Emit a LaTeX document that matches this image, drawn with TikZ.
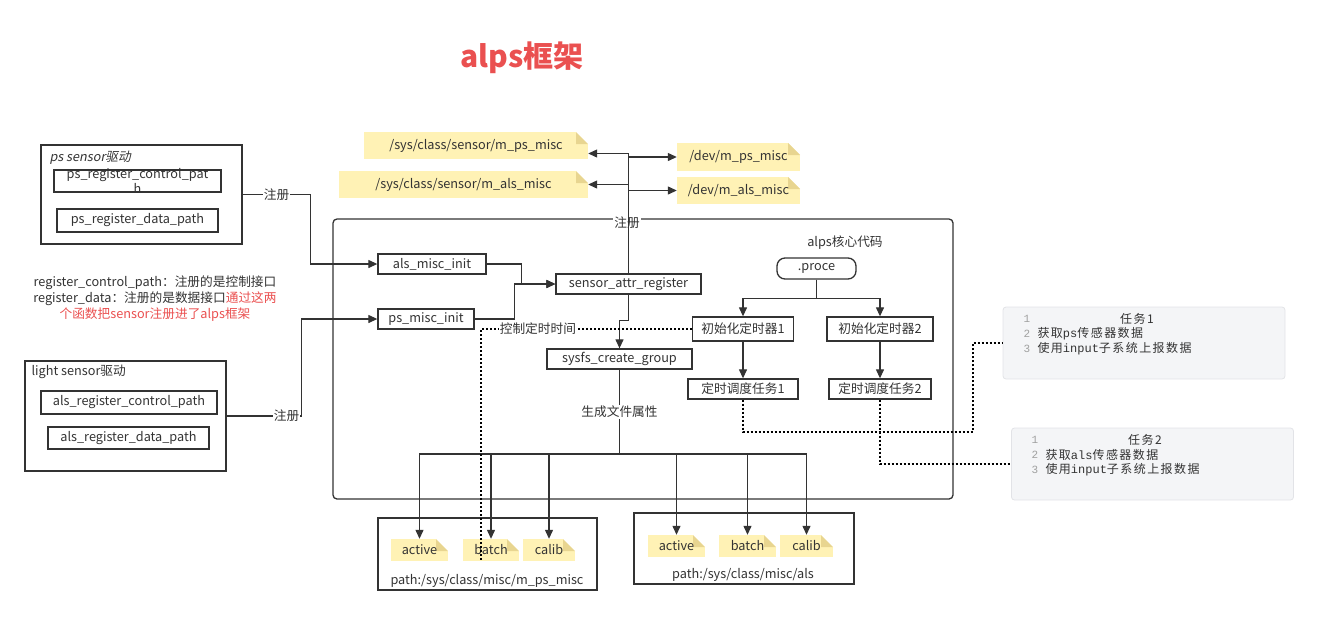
\documentclass[tikz,border=0pt]{standalone}
\usepackage{fontspec}
\setmainfont{Noto Sans CJK SC}
\newfontfamily\slantfont[FakeSlant=0.2]{Noto Sans CJK SC}
\newfontfamily\taskfont[LetterSpace=12]{Noto Sans CJK SC}
\newfontfamily\codefont{Liberation Mono}
\usetikzlibrary{arrows.meta}

\definecolor{linec}{HTML}{333333}
\definecolor{notefill}{HTML}{FFF2B5}
\definecolor{notefold}{HTML}{E8D590}
\definecolor{alpsred}{HTML}{EA5050}
\definecolor{taskfill}{HTML}{F4F5F7}
\definecolor{taskline}{HTML}{E2E3E7}
\definecolor{numgray}{HTML}{A0A0A0}

\tikzset{
  box/.style={draw=linec, line width=1.3pt, inner sep=0pt},
  note/.style={fill=notefill, inner sep=0pt, path picture={
      \fill[white] ([xshift=-12pt]path picture bounding box.north east) -- (path picture bounding box.north east)
        -- ([yshift=-12pt]path picture bounding box.north east) -- cycle;
      \fill[notefold] ([xshift=-12pt]path picture bounding box.north east) -- ([xshift=-12pt,yshift=-12pt]path picture bounding box.north east)
        -- ([yshift=-12pt]path picture bounding box.north east) -- cycle;}},
  link/.style={draw=linec, line width=1.2pt},
  arr/.style={link, -{Triangle[length=9pt,width=8pt]}},
  dots/.style={draw=black, line width=1.6pt, dash pattern=on 2pt off 2pt},
  lbl/.style={fill=white, inner sep=1pt},
  taskbox/.style={draw=taskline, fill=taskfill, rounded corners=3pt, line width=0.8pt,
      minimum width=282pt, minimum height=72pt},
  tasktxt/.style={anchor=west, font=\taskfont\fontsize{12}{14}\selectfont},
  tasknum/.style={anchor=west, text=numgray, font=\codefont\fontsize{11}{13}\selectfont},
}

\begin{document}
\begin{tikzpicture}[x=1pt, y=-1pt, every node/.style={font=\fontsize{12.7}{15}\selectfont, text=linec}]
%\draw [help lines] (0,0) grid (1318,625);
\useasboundingbox (0,0) rectangle (1318,625);

\node[font=\bfseries\fontsize{30}{34}\selectfont, text=alpsred] (title) at (522,58) {alps框架};

% ps driver
\node[box, minimum width=201pt, minimum height=99pt] (psdrv) at (141.5,194.5) {};
\node[anchor=west, font=\slantfont\fontsize{12.7}{15}\selectfont] (pstitle) at (46,158) {ps sensor驱动};
\node[box, minimum width=167pt, minimum height=22pt] (pscp) at (137.5,181) {};
\node[align=center] (pscptext) at (pscp) {ps\_register\_control\_pat\\h};
\node[box, minimum width=161pt, minimum height=23pt] (psdp) at (137.5,220.5) {ps\_register\_data\_path};

% light driver
\node[box, minimum width=201pt, minimum height=110pt] (lightdrv) at (125.5,416) {};
\node[anchor=west] (lighttitle) at (28,372) {light sensor驱动};
\node[box, minimum width=176pt, minimum height=23pt] (lcp) at (129,402.5) {als\_register\_control\_path};
\node[box, minimum width=161pt, minimum height=22pt] (ldp) at (128.5,438) {als\_register\_data\_path};

\node[align=center, font=\fontsize{12.7}{16}\selectfont] (note) at (155,299)
  {register\_control\_path：注册的是控制接口\\
   register\_data：注册的是数据接口\textcolor{alpsred}{通过这两}\\
   \textcolor{alpsred}{个函数把sensor注册进了alps框架}};

% alps core
\node[box, rounded corners=4pt, minimum width=620pt, minimum height=280pt] (core) at (643,359) {};
\node[lbl] (corelbl) at (627,223) {注册};
\node (corename) at (845,243) {alps核心代码};

\node[box, minimum width=108pt, minimum height=20pt] (alsinit) at (432,264) {als\_misc\_init};
\node[box, minimum width=96pt, minimum height=20pt] (psinit) at (426,319) {ps\_misc\_init};
\node[box, minimum width=145pt, minimum height=20pt] (sattr) at (628.5,284) {sensor\_attr\_register};
\node[box, minimum width=145pt, minimum height=20pt] (sysfs) at (619.5,359) {sysfs\_create\_group};

\node[box, rounded corners=8pt, minimum width=79pt, minimum height=21pt] (proce) at (816.5,268.5) {.proce};
\node[box, minimum width=101pt, minimum height=24pt] (ini1) at (743,329) {初始化定时器1};
\node[box, minimum width=106pt, minimum height=24pt] (ini2) at (880,329) {初始化定时器2};
\node[box, minimum width=110pt, minimum height=20pt] (tsk1) at (743,389) {定时调度任务1};
\node[box, minimum width=102pt, minimum height=20pt] (tsk2) at (880,389) {定时调度任务2};

% sysfs and dev nodes
\node[note, minimum width=224pt, minimum height=27pt] (nsysps) at (476,145.5) {/sys/class/sensor/m\_ps\_misc};
\node[note, minimum width=249pt, minimum height=27pt] (nsysals) at (463.5,184.5) {/sys/class/sensor/m\_als\_misc};
\node[note, minimum width=123pt, minimum height=28pt] (ndevps) at (738.5,157) {/dev/m\_ps\_misc};
\node[note, minimum width=123pt, minimum height=27pt] (ndevals) at (738.5,190.5) {/dev/m\_als\_misc};

% attribute folders
\node[box, minimum width=219pt, minimum height=72pt] (pbox) at (487.5,554) {};
\node (ppath) at (487,581) {path:/sys/class/misc/m\_ps\_misc};
\node[note, minimum width=57pt, minimum height=22pt] (pact) at (419.5,550) {active};
\node[note, minimum width=56pt, minimum height=22pt] (pbat) at (491,550) {batch};
\node[note, minimum width=52pt, minimum height=22pt] (pcal) at (549,550) {calib};

\node[box, minimum width=220pt, minimum height=71pt] (abox) at (744,548.5) {};
\node (apath) at (743,575) {path:/sys/class/misc/als};
\node[note, minimum width=57pt, minimum height=22pt] (aact) at (676.5,546) {active};
\node[note, minimum width=57pt, minimum height=22pt] (abat) at (747.5,546) {batch};
\node[note, minimum width=53pt, minimum height=22pt] (acal) at (806.5,546) {calib};

% tasks
\node[taskbox] (task1) at (1144,343) {};
\node[tasknum] at (1020,319) {1};
\node[tasknum] at (1020,334) {2};
\node[tasknum] at (1020,349) {3};
\node[font=\taskfont\fontsize{12}{14}\selectfont] at (1137,319) {任务1};
\node[tasktxt] at (1034,334) {获取{\codefont ps}传感器数据};
\node[tasktxt] at (1034,349) {使用{\codefont input}子系统上报数据};

\node[taskbox] (task2) at (1152.5,464) {};
\node[tasknum] at (1028,440) {1};
\node[tasknum] at (1028,455) {2};
\node[tasknum] at (1028,470) {3};
\node[font=\taskfont\fontsize{12}{14}\selectfont] at (1145,440) {任务2};
\node[tasktxt] at (1042,455) {获取{\codefont als}传感器数据};
\node[tasktxt] at (1042,470) {使用{\codefont input}子系统上报数据};

% connectors
\draw[arr] (psdrv.east) -- ++(68,0) node[midway, lbl] {注册} |- (alsinit.west);
\draw[arr] (lightdrv.east) -- ++(75,0) node[pos=0.8, lbl] {注册} |- (psinit.west);
\draw[arr] (alsinit.east) -- ++(35,0) |- (sattr.west);
\draw[arr] (psinit.east) -- ++(40,0) |- (sattr.west);
\draw[arr] (sattr.south) -- ++(0,26) -| (sysfs.north);

\draw[arr] (sattr.north) |- ([yshift=-8pt]nsysps.east);
\draw[arr] (sattr.north) |- (nsysals.east);
\draw[arr] (sattr.north |- ndevps.west) -- (ndevps.west);
\draw[arr] (sattr.north |- ndevals.west) -- (ndevals.west);

\coordinate (split) at (sysfs.south |- 0,454);
\draw[link] (sysfs.south) -- node[lbl] {生成文件属性} (split);
\foreach \n in {pact,pbat,pcal,aact,abat,acal}
  \draw[arr] (split) -| (\n.north);

\draw[arr] (proce.south) -- ++(0,19) -| (ini1.north);
\draw[arr] (proce.south) -- ++(0,19) -| (ini2.north);
\draw[arr] (ini1.south) -- (tsk1.north);
\draw[arr] (ini2.south) -- (tsk2.north);

\coordinate (ctrlend) at (481,560);
\draw[dots] (ini1.west) -- (ctrlend |- ini1.west) node[pos=0.73, lbl] {控制定时时间} -- (ctrlend);
\draw[dots] (tsk1.south) |- (973,432) |- (task1.west);
\draw[dots] (tsk2.south) |- (task2.west);

\end{tikzpicture}
\end{document}
